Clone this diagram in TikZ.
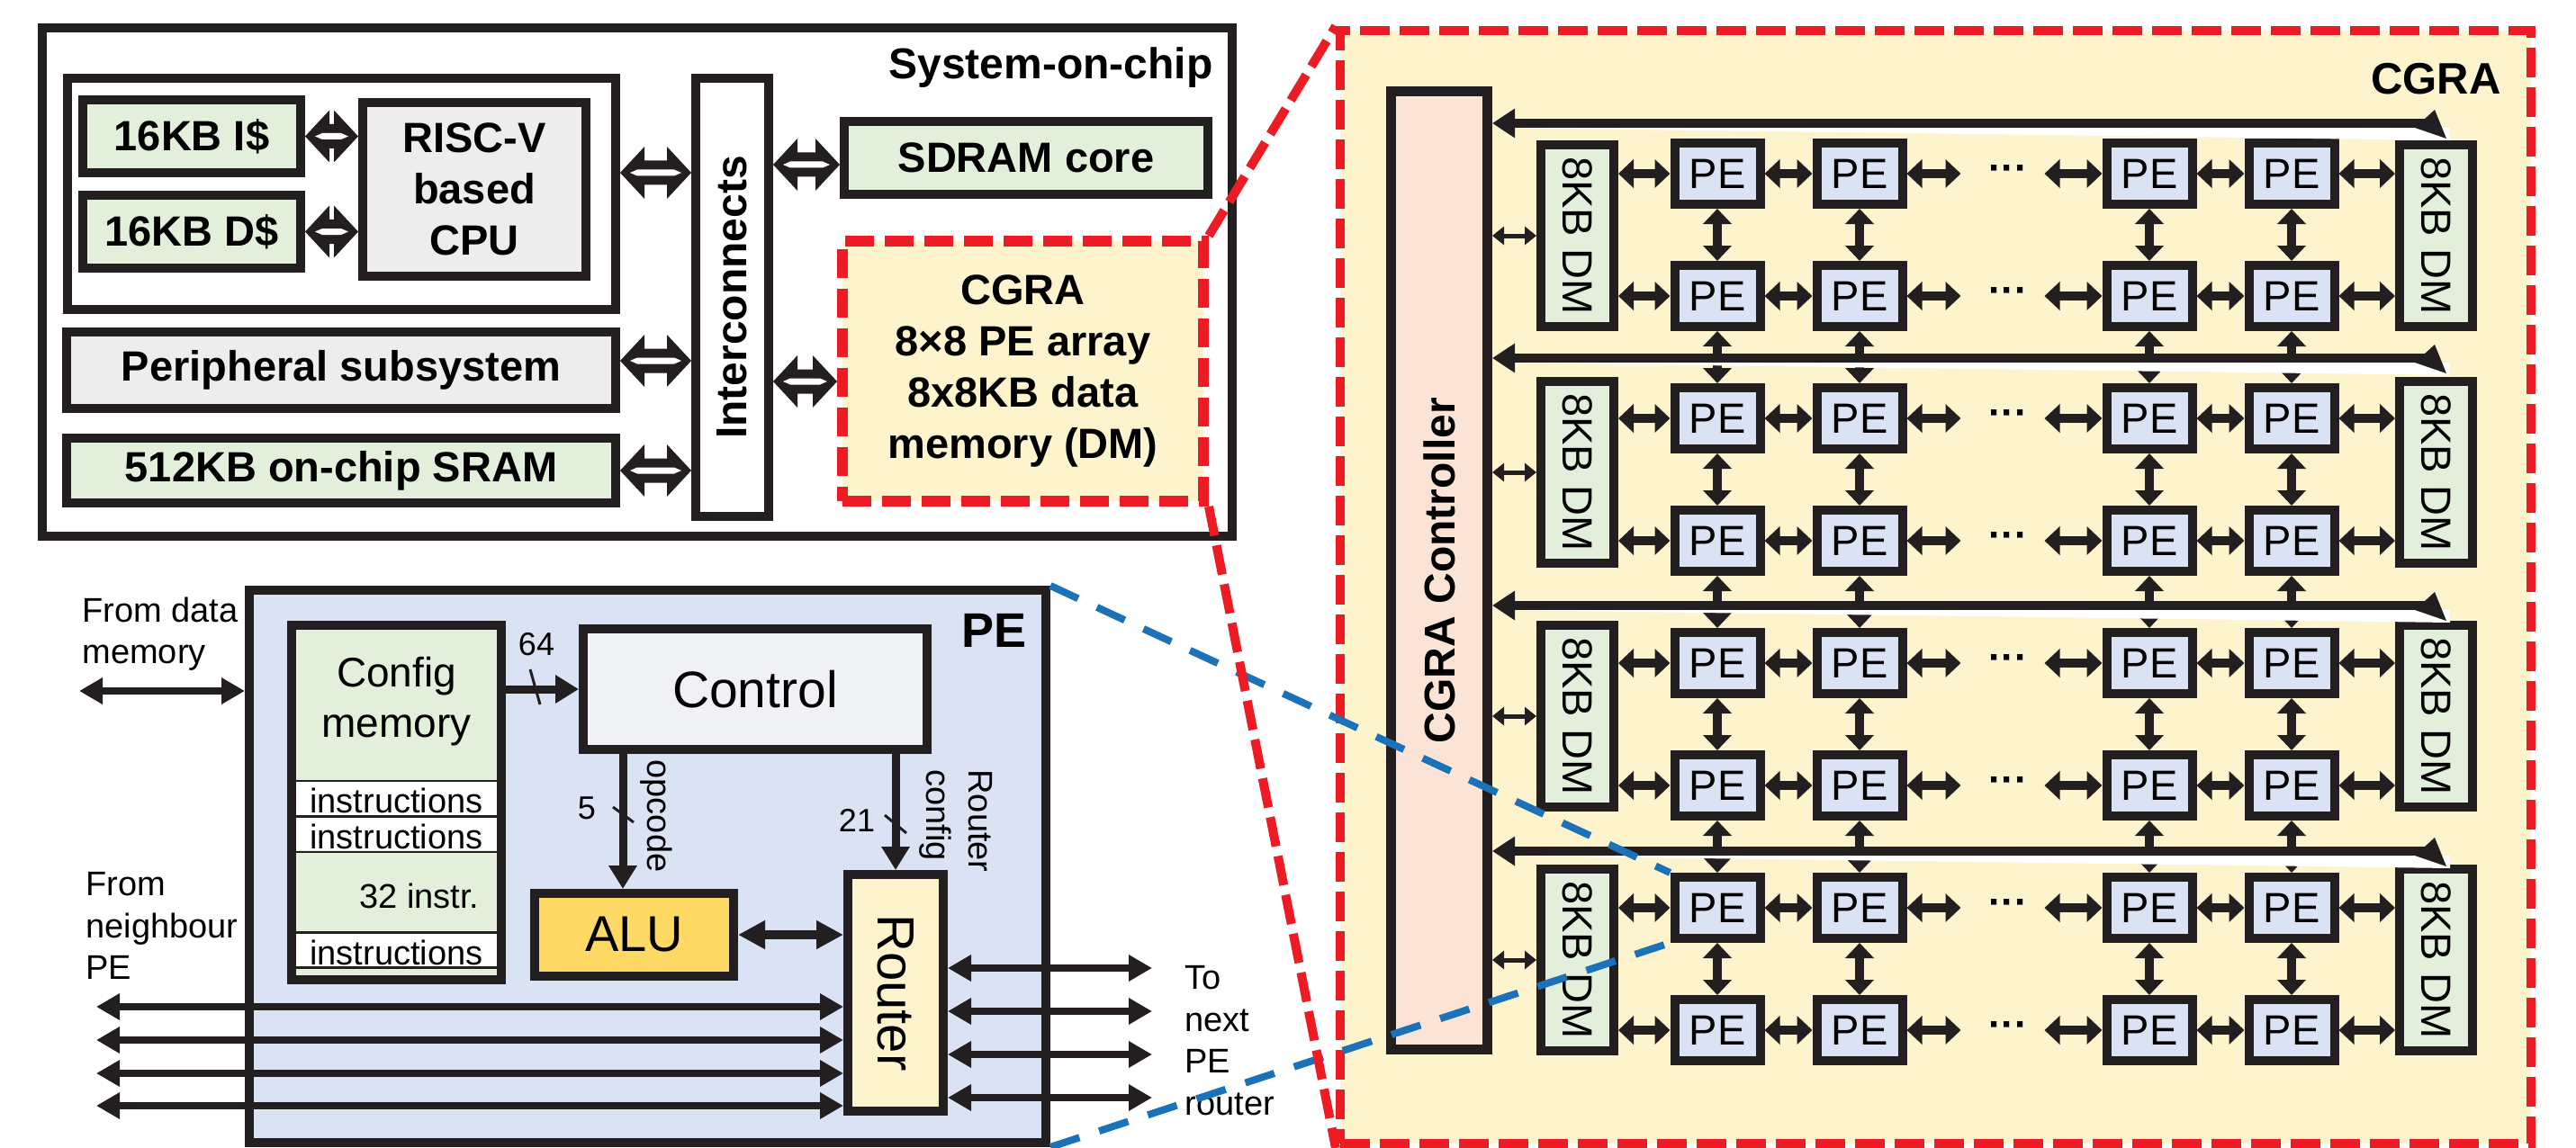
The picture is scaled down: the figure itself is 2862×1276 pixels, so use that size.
\documentclass[tikz,border=0pt]{standalone}
\usepackage{fontspec}
\setmainfont{Liberation Sans}
\usetikzlibrary{arrows.meta,calc}

\definecolor{ink}{HTML}{231F20}
\definecolor{greenfill}{HTML}{E2EFDA}
\definecolor{grayfill}{HTML}{EDEDED}
\definecolor{cgrafill}{HTML}{FDF3CD}
\definecolor{pefill}{HTML}{DAE3F3}
\definecolor{ctrlfill}{HTML}{F0F1F4}
\definecolor{alufill}{HTML}{FFD966}
\definecolor{ctrlrfill}{HTML}{FBE3D6}
\definecolor{cgred}{HTML}{ED1C24}
\definecolor{zoomblue}{HTML}{1B72B8}

\newcommand{\fsz}[2]{\fontsize{#1}{#2}\selectfont}
\newcommand{\socfont}{\fsz{47}{57}\bfseries}
\newcommand{\lblfont}{\fsz{38}{46.5}}
\newcommand{\tilefont}{\fsz{47}{52}}
\newcommand{\numfont}{\fsz{36}{40}}

% thick double-line bus arrow between two x positions at the height of a third point
\newcommand{\hollowarrow}[3]{%
  \fill[ink] let \p1=(#1), \p2=(#2), \p3=(#3) in
    (\x1,\y3) -- ({\x1+27pt},{\y3+29pt}) -- ({\x1+27pt},{\y3+13.5pt})
    -- ({\x2-27pt},{\y3+13.5pt}) -- ({\x2-27pt},{\y3+29pt}) -- (\x2,\y3)
    -- ({\x2-27pt},{\y3-29pt}) -- ({\x2-27pt},{\y3-13.5pt})
    -- ({\x1+27pt},{\y3-13.5pt}) -- ({\x1+27pt},{\y3-29pt}) -- cycle;
  \fill[white] let \p1=(#1), \p2=(#2), \p3=(#3) in
    ({\x1+11pt},\y3) -- ({\x1+19pt},{\y3+3.5pt}) -- ({\x2-19pt},{\y3+3.5pt})
    -- ({\x2-11pt},\y3) -- ({\x2-19pt},{\y3-3.5pt}) -- ({\x1+19pt},{\y3-3.5pt}) -- cycle;
}

\tikzset{
  box/.style={draw=ink, line width=10pt, inner sep=0pt, align=center},
  gridarrow/.style={draw=ink, line width=10pt, arrows={Triangle[length=17pt,width=31pt]-Triangle[length=17pt,width=31pt]}},
  linkarrow/.style={draw=ink, line width=7.5pt, arrows={Triangle[length=26pt,width=28pt]-Triangle[length=26pt,width=28pt]}},
  feedarrow/.style={draw=ink, line width=9pt, arrows={-Triangle[length=26pt,width=30pt]}},
  aluarrow/.style={draw=ink, line width=10pt, arrows={Triangle[length=30pt,width=30pt]-Triangle[length=30pt,width=30pt]}},
  ctrlarrow/.style={draw=ink, line width=5pt, arrows={Triangle[length=13pt,width=20pt]-Triangle[length=13pt,width=20pt]}},
  busarrow/.style={draw=ink, line width=10pt, arrows={Triangle[length=25pt,width=31pt]-}},
  slash/.style={draw=ink, line width=3pt},
  redline/.style={draw=cgred, line width=10pt, dash pattern=on 33pt off 11pt},
  blueline/.style={draw=zoomblue, line width=8pt, dash pattern=on 34pt off 23pt},
}

\begin{document}
\begin{tikzpicture}[x=1pt,y=-1pt]
\useasboundingbox (0,0) rectangle (2862,1276);

% ---------------- System-on-chip ----------------
\node[box, minimum width=1322pt, minimum height=565pt] (soc) at (708,313.5) {};
\node[anchor=base east, font=\fsz{48}{57}\bfseries] (soclabel) at (1351,88) {System-on-chip};
\node[box, minimum width=609pt, minimum height=257pt] (grp) at (379.5,215.5) {};
\node[box, fill=greenfill, minimum width=242pt, minimum height=81pt, font=\socfont] (icache) at (213,151.5) {16KB I\$};
\node[box, fill=greenfill, minimum width=242pt, minimum height=81pt, font=\socfont] (dcache) at (213,257.5) {16KB D\$};
\node[box, fill=grayfill, minimum width=248pt, minimum height=193pt, font=\socfont] (cpu) at (527,210.5) {RISC-V\\based\\CPU};
\node[box, fill=white, minimum width=81pt, minimum height=487pt] (ic) at (813.5,330.5) {};
\node[rotate=90, font=\fsz{48}{57}\bfseries] (ictext) at (ic) {Interconnects};
\node[box, fill=greenfill, minimum width=404pt, minimum height=81pt, font=\socfont] (sdram) at (1140,175.5) {SDRAM core};
\node[box, draw=cgred, line width=12pt, dash pattern=on 32pt off 12pt, fill=cgrafill,
      minimum width=401pt, minimum height=289pt, font=\socfont] (cgrasmall) at (1136.5,412.5)
      {CGRA\\8×8 PE array\\8x8KB data\\memory (DM)};
\node[box, fill=grayfill, minimum width=610pt, minimum height=85pt, font=\socfont] (periph) at (379,411.5) {Peripheral subsystem};
\node[box, fill=greenfill, minimum width=610pt, minimum height=72pt, font=\socfont] (sram) at (379,523) {512KB on-chip SRAM};

\hollowarrow{icache.east}{cpu.west}{icache.east}
\hollowarrow{dcache.east}{cpu.west}{dcache.east}
\hollowarrow{grp.east}{ic.west}{[yshift=23.5pt]grp.east}
\hollowarrow{ic.east}{sdram.west}{[yshift=-7.5pt]sdram.west}
\hollowarrow{periph.east}{ic.west}{[yshift=10.5pt]periph.east}
\hollowarrow{ic.east}{cgrasmall.west}{[yshift=-11.5pt]cgrasmall.west}
\hollowarrow{sram.east}{ic.west}{sram.east}

% ---------------- Processing element detail ----------------
\node[box, fill=pefill, minimum width=885pt, minimum height=614pt] (pebox) at (719.5,963) {};
\node[anchor=base east, font=\fsz{54}{60}\bfseries] (pelabel) at (1144,719) {PE};

\node[box, fill=greenfill, minimum width=233pt, minimum height=394pt] (cfg) at (440.5,892) {};
\fill[white] (329,869) rectangle (552,906);
\fill[white] (329,909) rectangle (552,945);
\fill[white] (329,1038) rectangle (552,1074);
\foreach \yy in {868,907.5,947,1036.5,1075.5}
  \draw[ink, line width=2.5pt] (329,\yy) -- (552,\yy);
\node[align=center, font=\fsz{46}{56}] (cfgtext) at (440.5,780) {Config\\memory};
\node[anchor=base, font=\lblfont] (ins1) at (440.5,903) {instructions};
\node[anchor=base, font=\lblfont] (ins2) at (440.5,943) {instructions};
\node[anchor=base east, font=\lblfont] (ins3) at (536,1009) {32 instr.};
\node[anchor=base, font=\lblfont] (ins4) at (440.5,1072) {instructions};

\node[box, fill=ctrlfill, minimum width=382pt, minimum height=134pt, font=\fsz{57}{60}] (control) at (839,766) {Control};
\node[box, fill=alufill, minimum width=221pt, minimum height=92pt, font=\fsz{56}{60}] (alu) at (704.5,1039) {ALU};
\node[box, fill=cgrafill, minimum width=106pt, minimum height=263pt] (router) at (995,1103.5) {};
\node[rotate=-90, font=\fsz{58}{60}] (routertext) at (router) {Router};

% configuration word into the control unit
\draw[feedarrow] (control.west -| cfg.east) -- (control.west);
\draw[slash] (589,744) -- (600,783);
\node[font=\numfont] (n64) at (596,716) {64};

% opcode to the ALU
\coordinate (opc) at ([xshift=-12.5pt]alu.north);
\draw[feedarrow] (opc |- control.south) -- (opc);
\draw[slash] (681,897) -- (704,914);
\node[font=\numfont] (n5) at (652,898) {5};
\node[rotate=-90, font=\lblfont] (opcode) at (729,907) {opcode};

% router configuration
\draw[feedarrow] (router.north |- control.south) -- (router.north);
\draw[slash] (983,906) -- (1007,926);
\node[font=\numfont] (n21) at (952,912) {21};
\node[rotate=-90, anchor=north west, align=left, font=\lblfont] (rcfg) at (1106,852) {Router\\config};

\draw[aluarrow] (alu.east) -- (alu.east -| router.west);

% neighbour links
\coordinate (dmin) at (88,768);
\draw[linkarrow] (dmin) -- (dmin -| pebox.west);
\foreach \i/\yy in {1/1119,2/1156,3/1193,4/1229} {
  \coordinate (nb\i) at (107,\yy);
  \draw[linkarrow] (nb\i) -- (nb\i -| router.west);
}
\foreach \i/\yy in {1/1076,2/1124,3/1172,4/1220} {
  \coordinate (nx\i) at (1280,\yy);
  \draw[linkarrow] (nx\i -| router.east) -- (nx\i);
}
\node[anchor=north west, align=left, font=\lblfont] (fromdm) at (88,660) {From data\\memory};
\node[anchor=north west, align=left, font=\lblfont] (fromnb) at (92,966) {From\\neighbour\\PE};
\node[anchor=north west, align=left, font=\lblfont] (tonext) at (1313,1070) {To\\next\\PE\\router};

% ---------------- CGRA array ----------------
\node[draw=cgred, line width=10pt, dash pattern=on 33pt off 11pt, fill=cgrafill, inner sep=0pt,
      minimum width=1323pt, minimum height=1237pt] (cgrabig) at (2150.5,652.5) {};
\node[anchor=base east, font=\fsz{49}{55}\bfseries] (cgralabel) at (2782,105) {CGRA};
\node[box, line width=11pt, fill=ctrlrfill, minimum width=107pt, minimum height=1065pt] (controller) at (1599,634) {};
\node[rotate=90, font=\fsz{48}{55}\bfseries] (ctrltext) at (controller) {CGRA Controller};

\foreach \k/\yy in {1/262,2/525,3/796,4/1067} {
  \node[box, fill=greenfill, minimum width=81pt, minimum height=202pt] (dml\k) at (1752.5,\yy) {};
  \node[rotate=-90, font=\tilefont] (dmlt\k) at (dml\k) {8KB DM};
  \node[box, fill=greenfill, minimum width=81pt, minimum height=202pt] (dmr\k) at (2706.5,\yy) {};
  \node[rotate=-90, font=\tilefont] (dmrt\k) at (dmr\k) {8KB DM};
  \draw[ctrlarrow] (controller.east |- dml\k.west) -- (dml\k.west);
}

\foreach \r in {1,...,8} {
  \pgfmathsetmacro{\ry}{193+136*(\r-1)}
  \foreach \c/\cx in {1/1908,2/2066,7/2388,8/2546}
    \node[box, fill=pefill, minimum width=95pt, minimum height=68pt, font=\tilefont] (pe-\r-\c) at (\cx,\ry) {PE};
  \node[font=\fsz{44}{50}\bfseries] (dots-\r) at (2231,\ry) {···};
}

\foreach \r in {1,...,8} {
  \pgfmathtruncatemacro{\k}{(\r+1)/2}
  \coordinate (gapL-\r) at ([xshift=60pt]pe-\r-2.east);
  \coordinate (gapR-\r) at ([xshift=-64pt]pe-\r-7.west);
  \draw[gridarrow] (dml\k.east |- pe-\r-1.west) -- (pe-\r-1.west);
  \draw[gridarrow] (pe-\r-1.east) -- (pe-\r-2.west);
  \draw[gridarrow] (pe-\r-2.east) -- (gapL-\r);
  \draw[gridarrow] (gapR-\r) -- (pe-\r-7.west);
  \draw[gridarrow] (pe-\r-7.east) -- (pe-\r-8.west);
  \draw[gridarrow] (pe-\r-8.east) -- (pe-\r-8.east -| dmr\k.west);
}
\foreach \r in {1,...,7} {
  \pgfmathtruncatemacro{\nr}{\r+1}
  \foreach \c in {1,2,7,8}
    \draw[gridarrow] (pe-\r-\c.south) -- (pe-\nr-\c.north);
}

% shared buses from the controller to the data memories
\foreach \j/\Y in {1/137,2/398,3/673,4/946} {
  \coordinate (bref-\j) at (0,\Y);
  \fill[white] (1660,{\Y+5}) -- (2722,{\Y+5}) -- (2722,{\Y+19}) -- cycle;
  \draw[busarrow] (controller.east |- bref-\j) -- (2700,\Y);
  \fill[ink] (2683,{\Y+5}) -- (2705,{\Y-15}) -- (2718,{\Y+17}) -- cycle;
}

% zoom guides
\draw[blueline] (pebox.north east) -- (pe-7-1.north west);
\draw[blueline] (pebox.south east) -- (pe-7-1.south west);
\draw[redline] (cgrasmall.north east) -- (cgrabig.north west);
\draw[redline] (cgrasmall.south east) -- (cgrabig.south west);
\end{tikzpicture}
\end{document}
